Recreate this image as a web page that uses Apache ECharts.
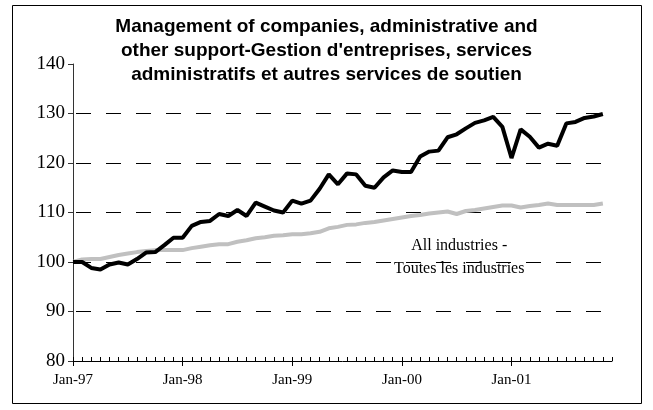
<!DOCTYPE html>
<html>
<head>
<meta charset="utf-8">
<script src="https://cdn.jsdelivr.net/npm/echarts@6/dist/echarts.min.js"></script>
<style>
html, body { margin: 0; padding: 0; background: #fff; }
#main { width: 653px; height: 410px; }
</style>
</head>
<body>
<div id="main"></div>
<script>
// months Jan-97 .. Dec-01 (axis runs one month past the last value)
var years = ['97', '98', '99', '00', '01'];
var monthNames = ['Jan', 'Feb', 'Mar', 'Apr', 'May', 'Jun', 'Jul', 'Aug', 'Sep', 'Oct', 'Nov', 'Dec'];
var months = [];
for (var y = 0; y < years.length; y++) {
	for (var m = 0; m < monthNames.length; m++) {
		months.push(monthNames[m] + '-' + years[y]);
	}
}

// Management of companies... (index, Jan-97 = 100)
var managementValues = [
	100, 100, 98.8, 98.5, 99.5, 99.9, 99.5, 100.6, 101.9, 102, 103.4, 104.9,
	104.9, 107.3, 108.1, 108.3, 109.7, 109.3, 110.5, 109.3, 112, 111.2, 110.4, 110,
	112.4, 111.8, 112.4, 114.8, 117.7, 115.7, 117.9, 117.7, 115.4, 115, 117.1, 118.5,
	118.2, 118.2, 121.3, 122.3, 122.5, 125.2, 125.8, 127, 128.1, 128.6, 129.3, 127.3,
	121, 126.8, 125.3, 123.1, 123.9, 123.5, 128, 128.3, 129.1, 129.4, 129.9
];
// All industries - Toutes les industries
var allIndustries = [
	100, 100.5, 100.6, 100.6, 101, 101.4, 101.7, 102, 102.2, 102.4, 102.4, 102.4,
	102.4, 102.8, 103.1, 103.4, 103.6, 103.6, 104.1, 104.4, 104.8, 105, 105.3, 105.4,
	105.6, 105.6, 105.8, 106.1, 106.8, 107.1, 107.5, 107.6, 107.9, 108.1, 108.4, 108.7,
	109, 109.3, 109.5, 109.8, 110, 110.2, 109.7, 110.3, 110.5, 110.8, 111.1, 111.4,
	111.4, 111, 111.3, 111.5, 111.8, 111.5, 111.5, 111.5, 111.5, 111.5, 111.8
];
var gridLevels = [90, 100, 110, 120, 130];

var titleText = 'Management of companies, administrative and\nother support-Gestion d\'entreprises, services\nadministratifs et autres services de soutien';

var chart = echarts.init(document.getElementById('main'));
var option = {
	animation: false,
	backgroundColor: '#fff',
	title: {
		text: titleText,
		left: 'center',
		top: 10,
		textStyle: {
			fontFamily: 'Liberation Sans',
			fontWeight: 'bold',
			fontSize: 19,
			lineHeight: 24,
			color: '#000'
		}
	},
	grid: { left: 73, right: 41, top: 64, bottom: 49 },
	xAxis: [
		{
			type: 'category',
			data: months,
			boundaryGap: false,
			axisLine: { lineStyle: { color: '#000', width: 1 } },
			axisTick: { inside: true, interval: 0, length: 4, lineStyle: { color: '#000' } },
			axisLabel: {
				interval: function (i) { return i % 12 === 0; },
				fontFamily: 'Liberation Serif',
				fontSize: 15,
				color: '#000',
				margin: 12
			},
			splitLine: { show: false }
		},
		{
			// yearly ticks below the axis
			type: 'category',
			data: months,
			boundaryGap: false,
			position: 'bottom',
			axisLine: { show: false },
			axisTick: { inside: false, interval: function (i) { return i % 12 === 0; }, length: 5, lineStyle: { color: '#000' } },
			axisLabel: { show: false },
			splitLine: { show: false }
		}
	],
	yAxis: {
		type: 'value',
		min: 80,
		max: 140,
		interval: 10,
		axisLine: { show: true, lineStyle: { color: '#333' } },
		axisTick: { show: true, length: 5, lineStyle: { color: '#333' } },
		axisLabel: {
			fontFamily: 'Liberation Serif',
			fontSize: 19,
			color: '#000',
			margin: 8
		},
		splitLine: { show: false }
	},
	graphic: [
		{
			type: 'rect',
			shape: { x: 12.5, y: 5.5, width: 629, height: 398 },
			style: { fill: 'none', stroke: '#000', lineWidth: 1 },
			silent: true
		},
		{
			type: 'text',
			left: 394,
			top: 234,
			style: {
				text: 'All industries -\nToutes les industries',
				textAlign: 'center',
				fontFamily: 'Liberation Serif',
				fontSize: 16,
				lineHeight: 23,
				fill: '#000'
			}
		}
	],
	series: [
		{
			name: 'All industries - Toutes les industries',
			type: 'line',
			data: allIndustries,
			showSymbol: false,
			smooth: false,
			lineStyle: { color: '#c0c0c0', width: 4 },
			z: 3,
			markLine: {
				silent: true,
				symbol: 'none',
				label: { show: false },
				lineStyle: { color: '#000', width: 1, type: [15, 15], dashOffset: 27 },
				data: gridLevels.map(function (v) { return { yAxis: v }; }),
				z: 1
			}
		},
		{
			name: 'Management of companies',
			type: 'line',
			data: managementValues,
			showSymbol: false,
			smooth: false,
			lineStyle: { color: '#000', width: 4 },
			z: 4
		}
	]
};
chart.setOption(option);
</script>
</body>
</html>
